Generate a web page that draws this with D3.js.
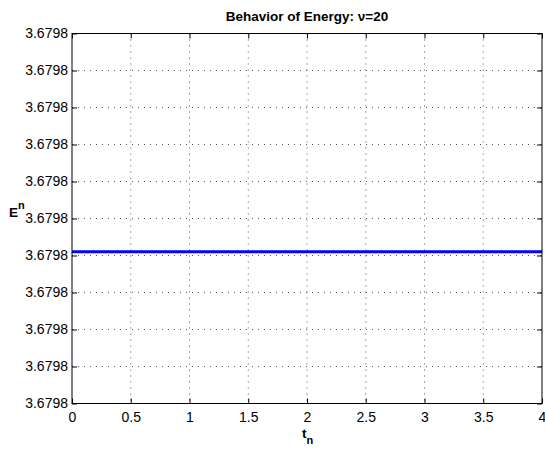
<!DOCTYPE html>
<html>
<head>
<meta charset="utf-8">
<script src="https://cdn.jsdelivr.net/npm/d3@7"></script>
<style>
  body { margin: 0; background: #fff; }
  text { font-family: "Liberation Sans", Arial, Helvetica, sans-serif; }
</style>
</head>
<body>
<div id="chart"></div>
<script>
// data
const timeSteps = [0, 0.5, 1, 1.5, 2, 2.5, 3, 3.5, 4];
const energyValues = [3.6797991, 3.6797991, 3.6797991, 3.6797991, 3.6797991, 3.6797991, 3.6797991, 3.6797991, 3.6797991];
const xTicks = [0, 0.5, 1, 1.5, 2, 2.5, 3, 3.5, 4];
const yTicks = [3.679795, 3.679796, 3.679797, 3.679798, 3.679799, 3.679800, 3.679801, 3.679802, 3.679803, 3.679804, 3.679805];

let width = 545,
    height = 449;

const margin = {top: 33.5, right: 3, bottom: 45.5, left: 72};

let svg = d3.select("#chart")
  .append("svg")
  .attr("width", width)
  .attr("height", height);

let x = d3.scaleLinear()
  .domain([0, 4])
  .range([margin.left, width - margin.right]);

let y = d3.scaleLinear()
  .domain([yTicks[0], yTicks[yTicks.length - 1]])
  .range([height - margin.bottom, margin.top]);

const fmt = d => d3.format(".4f")(d);

// grid (dotted)
let grid = svg.append("g").attr("class", "grid");
grid.selectAll("line.gx")
  .data(xTicks.slice(1, -1))
  .join("line")
  .attr("x1", d => x(d)).attr("x2", d => x(d))
  .attr("y1", margin.top).attr("y2", height - margin.bottom)
  .attr("stroke", "#555").attr("stroke-width", 1)
  .attr("stroke-dasharray", "1,5");
grid.selectAll("line.gy")
  .data(yTicks.slice(1, -1))
  .join("line")
  .attr("x1", margin.left).attr("x2", width - margin.right)
  .attr("y1", d => y(d)).attr("y2", d => y(d))
  .attr("stroke", "#555").attr("stroke-width", 1)
  .attr("stroke-dasharray", "1,5");

// the energy line
let line = d3.line()
  .x((d, i) => x(timeSteps[i]))
  .y(d => y(d));

svg.append("path")
  .datum(energyValues)
  .attr("d", line)
  .attr("fill", "none")
  .attr("stroke", "#0000ff")
  .attr("stroke-width", 3);

// axes, MATLAB style: ticks inside, box all round
const tickLen = 5;
svg.append("g")
  .attr("transform", `translate(0,${height - margin.bottom})`)
  .call(d3.axisBottom(x).tickValues(xTicks).tickSize(-tickLen).tickPadding(9).tickFormat(d3.format("")))
  .call(g => g.select(".domain").remove());

svg.append("g")
  .attr("transform", `translate(0,${margin.top})`)
  .call(d3.axisTop(x).tickValues(xTicks).tickSize(-tickLen).tickFormat(""))
  .call(g => g.select(".domain").remove());

svg.append("g")
  .attr("transform", `translate(${margin.left},0)`)
  .call(d3.axisLeft(y).tickValues(yTicks).tickSize(-tickLen).tickPadding(4).tickFormat(fmt))
  .call(g => g.select(".domain").remove());

svg.append("g")
  .attr("transform", `translate(${width - margin.right},0)`)
  .call(d3.axisRight(y).tickValues(yTicks).tickSize(-tickLen).tickFormat(""))
  .call(g => g.select(".domain").remove());

svg.selectAll(".tick text")
  .style("font-size", "14px")
  .attr("fill", "#000");
svg.selectAll(".tick line").attr("stroke", "#000");

svg.append("rect")
  .attr("x", margin.left).attr("y", margin.top)
  .attr("width", width - margin.right - margin.left)
  .attr("height", height - margin.bottom - margin.top)
  .attr("fill", "none")
  .attr("stroke", "#000")
  .attr("stroke-width", 1);

// title
svg.append("text")
  .attr("x", (margin.left + width - margin.right) / 2)
  .attr("y", 21)
  .attr("text-anchor", "middle")
  .style("font-size", "13.5px")
  .style("font-weight", "bold")
  .text("Behavior of Energy: ν=20");

// x label t_n
let xl = svg.append("text")
  .attr("x", x(2) - 5)
  .attr("y", 438)
  .style("font-size", "13.5px")
  .style("font-weight", "bold");
xl.append("tspan").text("t");
xl.append("tspan").attr("dy", 6).style("font-size", "11px").text("n");

// y label E^n
let yl = svg.append("text")
  .attr("x", 9)
  .attr("y", 217)
  .style("font-size", "13.5px")
  .style("font-weight", "bold");
yl.append("tspan").text("E");
yl.append("tspan").attr("dy", -8).style("font-size", "11px").text("n");
</script>
</body>
</html>
